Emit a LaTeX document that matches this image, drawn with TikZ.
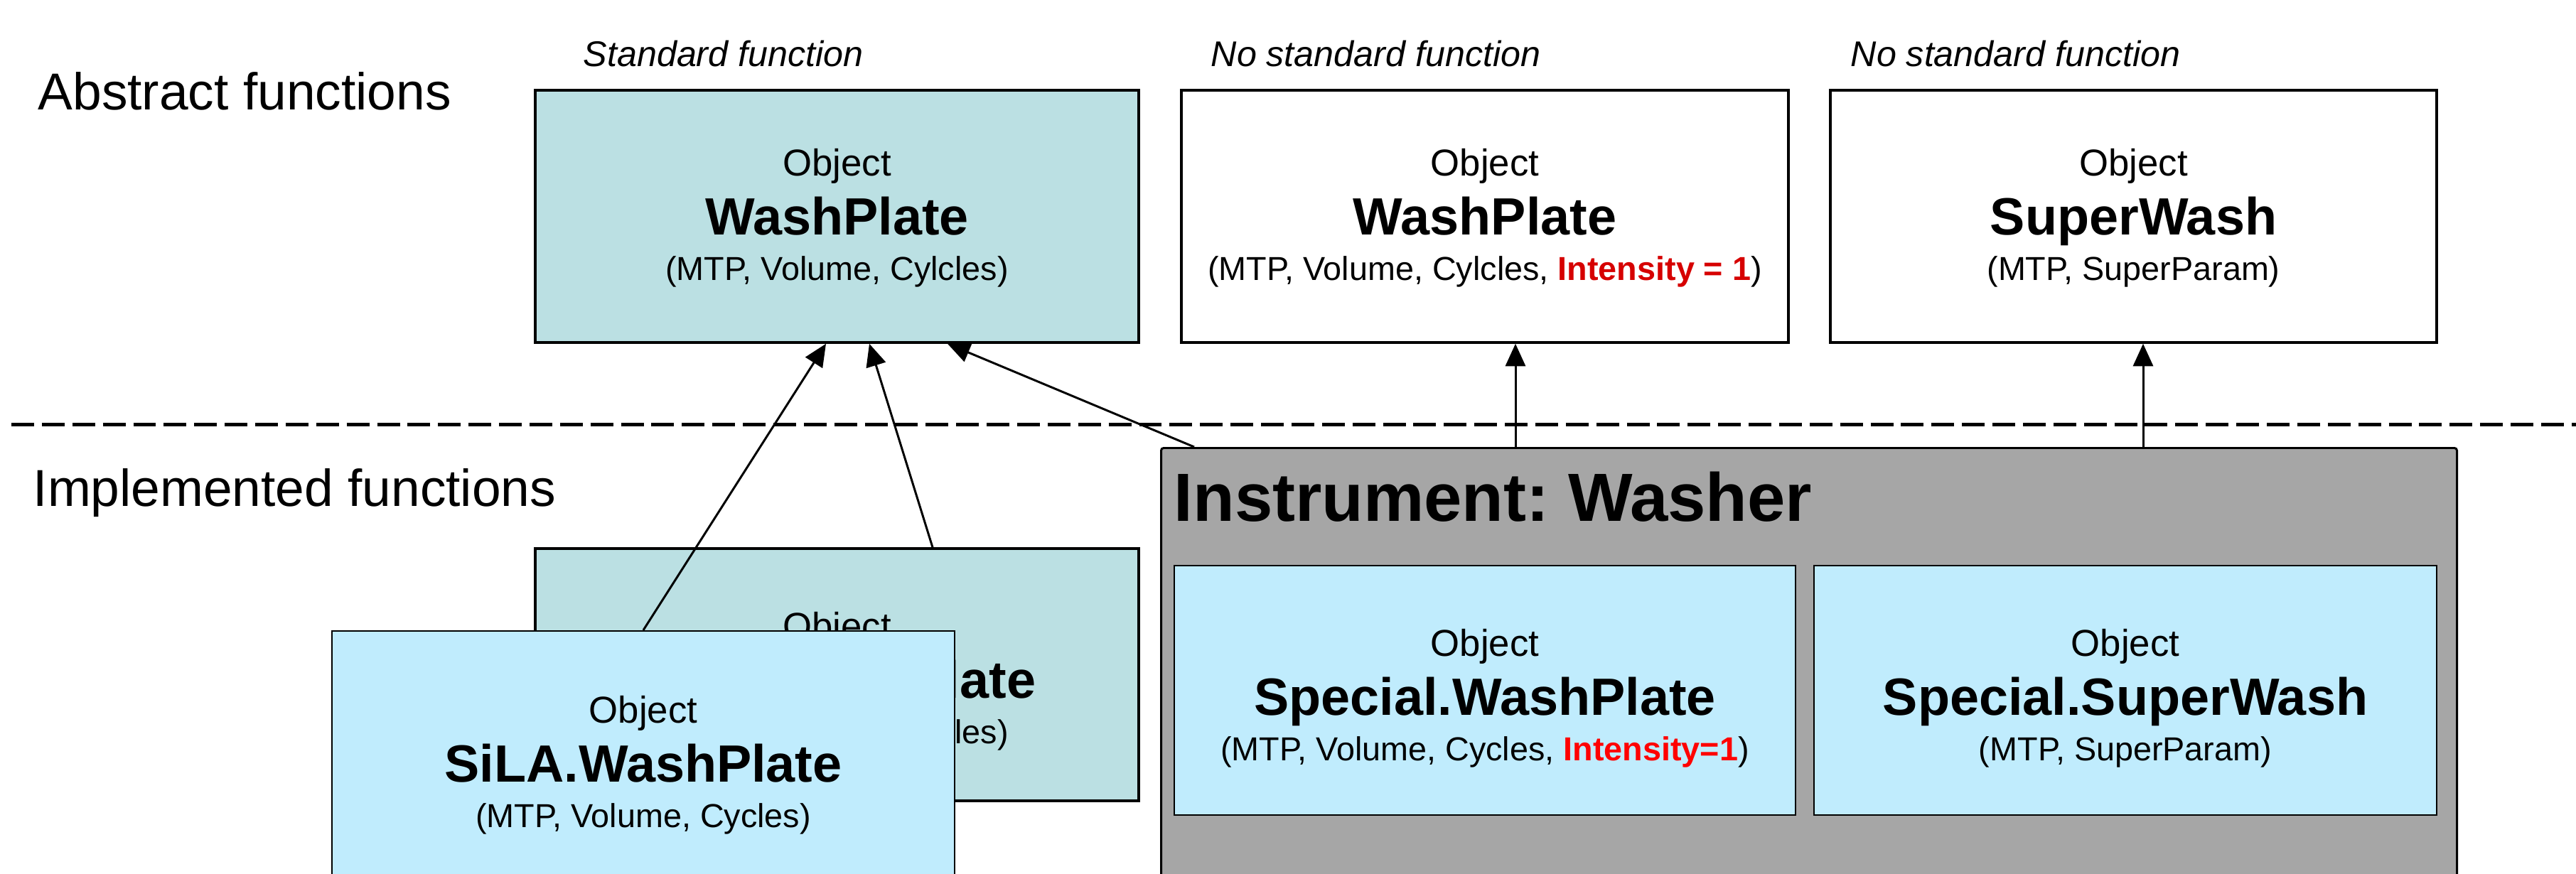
\documentclass[tikz,border=0pt]{standalone}
\usepackage{fontspec}
\setmainfont{Liberation Sans}
\frenchspacing
\usepackage{tikz}
\usetikzlibrary{arrows.meta}
\definecolor{abstractteal}{RGB}{187,224,227}
\definecolor{implcyan}{RGB}{192,236,253}
\definecolor{instrgray}{RGB}{166,166,166}
\definecolor{paramred}{RGB}{255,0,0}
\definecolor{paramdarkred}{RGB}{214,0,0}
\newcommand{\objfont}{\fontsize{13.3}{23.6}\selectfont}
\newcommand{\objtext}[3][12.4pt]{{\fontsize{15}{18}\selectfont\rule{0pt}{#1}Object}\\{\fontsize{21}{25}\selectfont\bfseries #2}\\[-5.4pt]#3}
\tikzset{abstractbox/.style={draw, line width=1pt, inner sep=0pt, align=center, minimum width=8.49cm, minimum height=3.55cm, font=\objfont}}
\tikzset{implbox/.style={draw, line width=0.65pt, fill=implcyan, inner sep=0pt, align=center, minimum width=8.76cm, minimum height=3.55cm, font=\objfont}}
\tikzset{heading/.style={inner sep=0pt, anchor=base west, font=\fontsize{20.8}{25}\selectfont}}
\tikzset{stdnote/.style={inner sep=0pt, anchor=base west, font=\fontsize{14.3}{17}\selectfont\itshape}}
\tikzset{dashline/.style={line width=1.15pt, dash pattern=on 9.1pt off 3.1pt}}

\begin{document}
\begin{tikzpicture}
\tikzstyle{myarrowstyle} = [-{Triangle[length=9pt,width=8pt]}, line width=0.85pt]
\useasboundingbox (0,0) rectangle (36.24,-12.30);
\node[heading] (absHead) at (0.53,-1.55) {Abstract functions};
\node[heading] (implHead) at (0.46,-7.12) {Implemented functions};
\node[stdnote] (stdNote) at (8.20,-0.94) {Standard function};
\node[stdnote] (noStdNoteA) at (17.03,-0.94) {No standard function};
\node[stdnote] (noStdNoteB) at (26.03,-0.94) {No standard function};
\node[abstractbox, fill=abstractteal] (absWash) at (11.775,-3.045) {\objtext{WashPlate}{(MTP, Volume, Cylcles)}};
\node[abstractbox, minimum width=8.54cm] (absWashNo) at (20.89,-3.045) {\objtext{WashPlate}{(MTP, Volume, Cylcles, \textcolor{paramdarkred}{\bfseries Intensity = 1})}};
\node[abstractbox, minimum width=8.53cm] (absSuper) at (30.015,-3.045) {\objtext{SuperWash}{(MTP, SuperParam)}};
\coordinate (dashStart) at (0.16,-5.975);
\coordinate (dashEnd) at (36.24,-5.975);
\draw[dashline] (dashStart) -- (dashEnd);
\node[abstractbox, fill=abstractteal] (implWash) at (11.775,-9.495) {\objtext[16pt]{SiLA.WashPlate}{(MTP, Volume, Cylcles)}};
\node[implbox] (silaWash) at (9.05,-10.655) {\objtext[17.5pt]{SiLA.WashPlate}{(MTP, Volume, Cycles)}};
\node[draw, line width=0.85pt, fill=instrgray, rounded corners=1pt, anchor=north west, minimum width=18.23cm, minimum height=6.8cm] (instr) at (16.32,-6.29) {};
\node[inner sep=0pt, anchor=base west, font=\fontsize{27.3}{32}\selectfont\bfseries] (instrTitle) at (16.51,-7.33) {Instrument: Washer};
\node[implbox, minimum width=8.74cm, minimum height=3.51cm] (specWash) at (20.89,-9.715) {\objtext[17.5pt]{Special.WashPlate}{(MTP, Volume, Cycles, \textcolor{paramred}{\bfseries Intensity=1})}};
\node[implbox, minimum height=3.51cm] (specSuper) at (29.90,-9.715) {\objtext[17.5pt]{Special.SuperWash}{(MTP, SuperParam)}};
\draw[myarrowstyle] (silaWash.north) -- ([xshift=-1.55mm]absWash.south);
\draw[myarrowstyle] ([xshift=13.45mm]implWash.north) -- ([xshift=4.55mm]absWash.south);
\draw[myarrowstyle] ([xshift=4.8mm]instr.north west) -- ([xshift=15.55mm]absWash.south);
\coordinate (tipWashNo) at ([xshift=4.3mm]absWashNo.south);
\coordinate (tipSuper) at ([xshift=1.35mm]absSuper.south);
\draw[myarrowstyle] (tipWashNo |- instr.north) -- (tipWashNo);
\draw[myarrowstyle] (tipSuper |- instr.north) -- (tipSuper);
\end{tikzpicture}
\end{document}
